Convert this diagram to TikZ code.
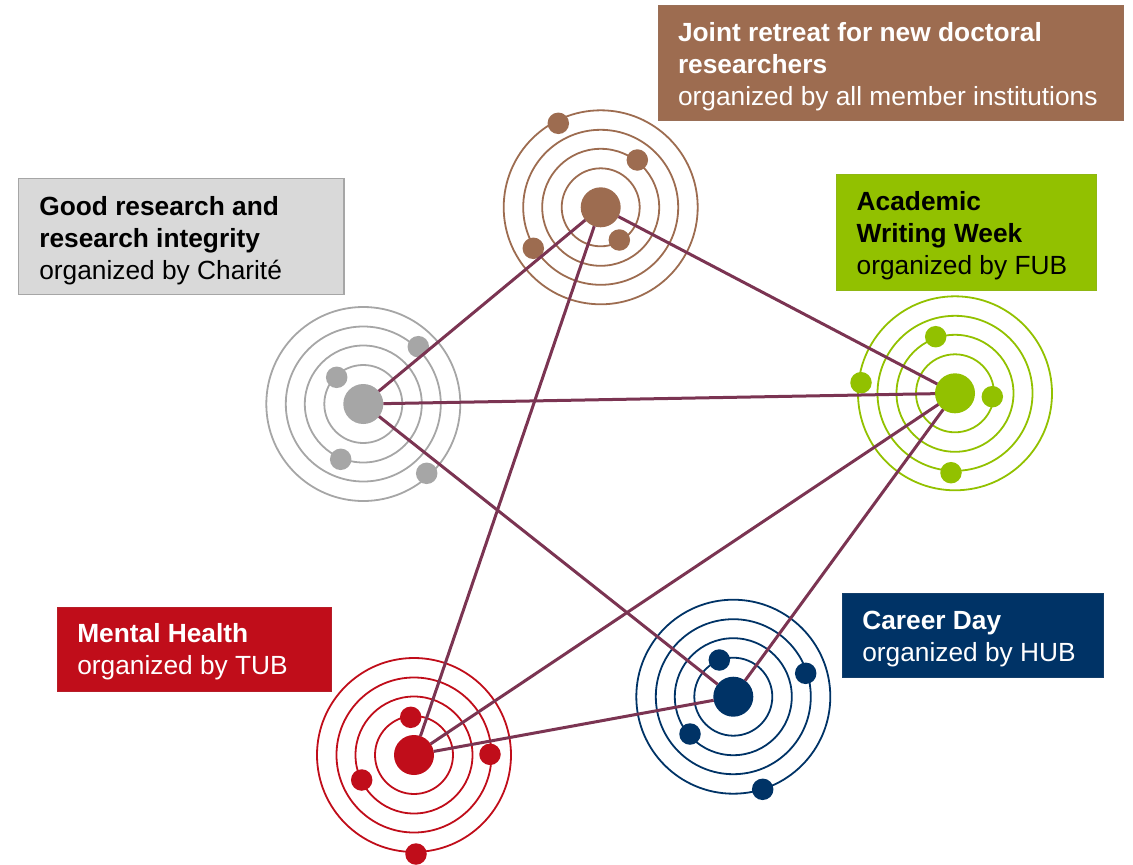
\documentclass[tikz,border=0pt]{standalone}
\usepackage{fontspec}
\setmainfont{Liberation Sans}
\definecolor{cbrown}{RGB}{157,108,80}
\definecolor{cgray}{RGB}{166,166,166}
\definecolor{cgreen}{RGB}{146,193,0}
\definecolor{cred}{RGB}{192,13,26}
\definecolor{cnavy}{RGB}{0,51,102}
\definecolor{clink}{RGB}{123,52,82}
\definecolor{boxgray}{RGB}{217,217,217}
\begin{document}
\begin{tikzpicture}[x=1pt,y=-1pt,
  ring/.style={line width=1.8pt},
  link/.style={draw=clink, line width=3pt},
  bigdot/.style={circle, inner sep=0pt, outer sep=0pt, minimum size=40pt},
  smalldot/.style={circle, inner sep=0pt, outer sep=0pt, minimum size=21.5pt},
  boxnode/.style={rectangle, inner sep=0pt, outer sep=0pt, anchor=north west},
  txt/.style={anchor=base west, inner sep=0pt, outer sep=0pt, font=\fontsize{26.3}{32}\selectfont}]
\useasboundingbox (0,0) rectangle (1133,865);

% rings
\foreach \r in {39,58.5,77.5,97} {
  \draw[ring, cbrown] (600.7,207.3) circle[radius=\r pt];
  \draw[ring, cgray]  (363.3,404) circle[radius=\r pt];
  \draw[ring, cgreen] (955,393.3) circle[radius=\r pt];
  \draw[ring, cred]   (414,755) circle[radius=\r pt];
  \draw[ring, cnavy]  (733.3,696.7) circle[radius=\r pt];
}

% small dots
\node[smalldot, fill=cbrown] (b1) at (558.3,123.3) {};
\node[smalldot, fill=cbrown] (b2) at (637.3,160) {};
\node[smalldot, fill=cbrown] (b3) at (533.3,248.3) {};
\node[smalldot, fill=cbrown] (b4) at (619.3,240) {};
\node[smalldot, fill=cgray] (g1) at (336.7,377.3) {};
\node[smalldot, fill=cgray] (g2) at (418.3,346.7) {};
\node[smalldot, fill=cgray] (g3) at (340.7,459.3) {};
\node[smalldot, fill=cgray] (g4) at (426.7,473.3) {};
\node[smalldot, fill=cgreen] (f1) at (935.7,336.7) {};
\node[smalldot, fill=cgreen] (f2) at (861,382.7) {};
\node[smalldot, fill=cgreen] (f3) at (992.3,396.7) {};
\node[smalldot, fill=cgreen] (f4) at (951,472.7) {};
\node[smalldot, fill=cred] (r1) at (410.7,717.3) {};
\node[smalldot, fill=cred] (r2) at (361.7,780) {};
\node[smalldot, fill=cred] (r3) at (490,754.3) {};
\node[smalldot, fill=cred] (r4) at (416,854) {};
\node[smalldot, fill=cnavy] (n1) at (719.3,660) {};
\node[smalldot, fill=cnavy] (n2) at (805.7,673.3) {};
\node[smalldot, fill=cnavy] (n3) at (690,734) {};
\node[smalldot, fill=cnavy] (n4) at (762.7,789.3) {};

% big dots
\node[bigdot, fill=cbrown] (B) at (600.7,207.3) {};
\node[bigdot, fill=cgray]  (G) at (363.3,404) {};
\node[bigdot, fill=cgreen] (F) at (955,393.3) {};
\node[bigdot, fill=cred]   (R) at (414,755) {};
\node[bigdot, fill=cnavy]  (N) at (733.3,696.7) {};

% connectors
\draw[link] (B) -- (G);
\draw[link] (B) -- (F);
\draw[link] (B) -- (R);
\draw[link] (G) -- (F);
\draw[link] (G) -- (N);
\draw[link] (F) -- (R);
\draw[link] (F) -- (N);
\draw[link] (R) -- (N);

% boxes
\node[boxnode, fill=cbrown, draw=cbrown!85!gray, line width=0.6pt, minimum width=464.8pt, minimum height=115.5pt] (boxB) at (658.5,5) {};
\node[boxnode, fill=boxgray, draw=cgray, line width=1.2pt, minimum width=325.5pt, minimum height=115.8pt] (boxG) at (18.5,178.5) {};
\node[boxnode, fill=cgreen, draw=cgreen!85!gray, line width=0.6pt, minimum width=260.5pt, minimum height=115.5pt] (boxF) at (836,174.5) {};
\node[boxnode, fill=cred, draw=cred!85!gray, line width=0.6pt, minimum width=274.5pt, minimum height=84pt] (boxR) at (57,607.5) {};
\node[boxnode, fill=cnavy, draw=cnavy!85!gray, line width=0.6pt, minimum width=261pt, minimum height=84pt] (boxN) at (842,593) {};

% texts
\node[txt, text=white] (tB) at (678,41) {\vtop{\baselineskip=32pt
  \hbox{\bfseries Joint retreat for new doctoral}\hbox{\bfseries researchers}\hbox{organized by all member institutions}}};
\node[txt, text=black] (tG) at (39.3,215.5) {\vtop{\baselineskip=32pt
  \hbox{\bfseries Good research and}\hbox{\bfseries research integrity}\hbox{organized by Charité}}};
\node[txt, text=black] (tF) at (856.7,210.5) {\vtop{\baselineskip=32pt
  \hbox{\bfseries Academic}\hbox{\bfseries Writing Week}\hbox{organized by FUB}}};
\node[txt, text=white] (tR) at (77.3,642.7) {\vtop{\baselineskip=32pt
  \hbox{\bfseries Mental Health}\hbox{organized by TUB}}};
\node[txt, text=white] (tN) at (862.3,629.7) {\vtop{\baselineskip=32pt
  \hbox{\bfseries Career Day}\hbox{organized by HUB}}};
\end{tikzpicture}
\end{document}
